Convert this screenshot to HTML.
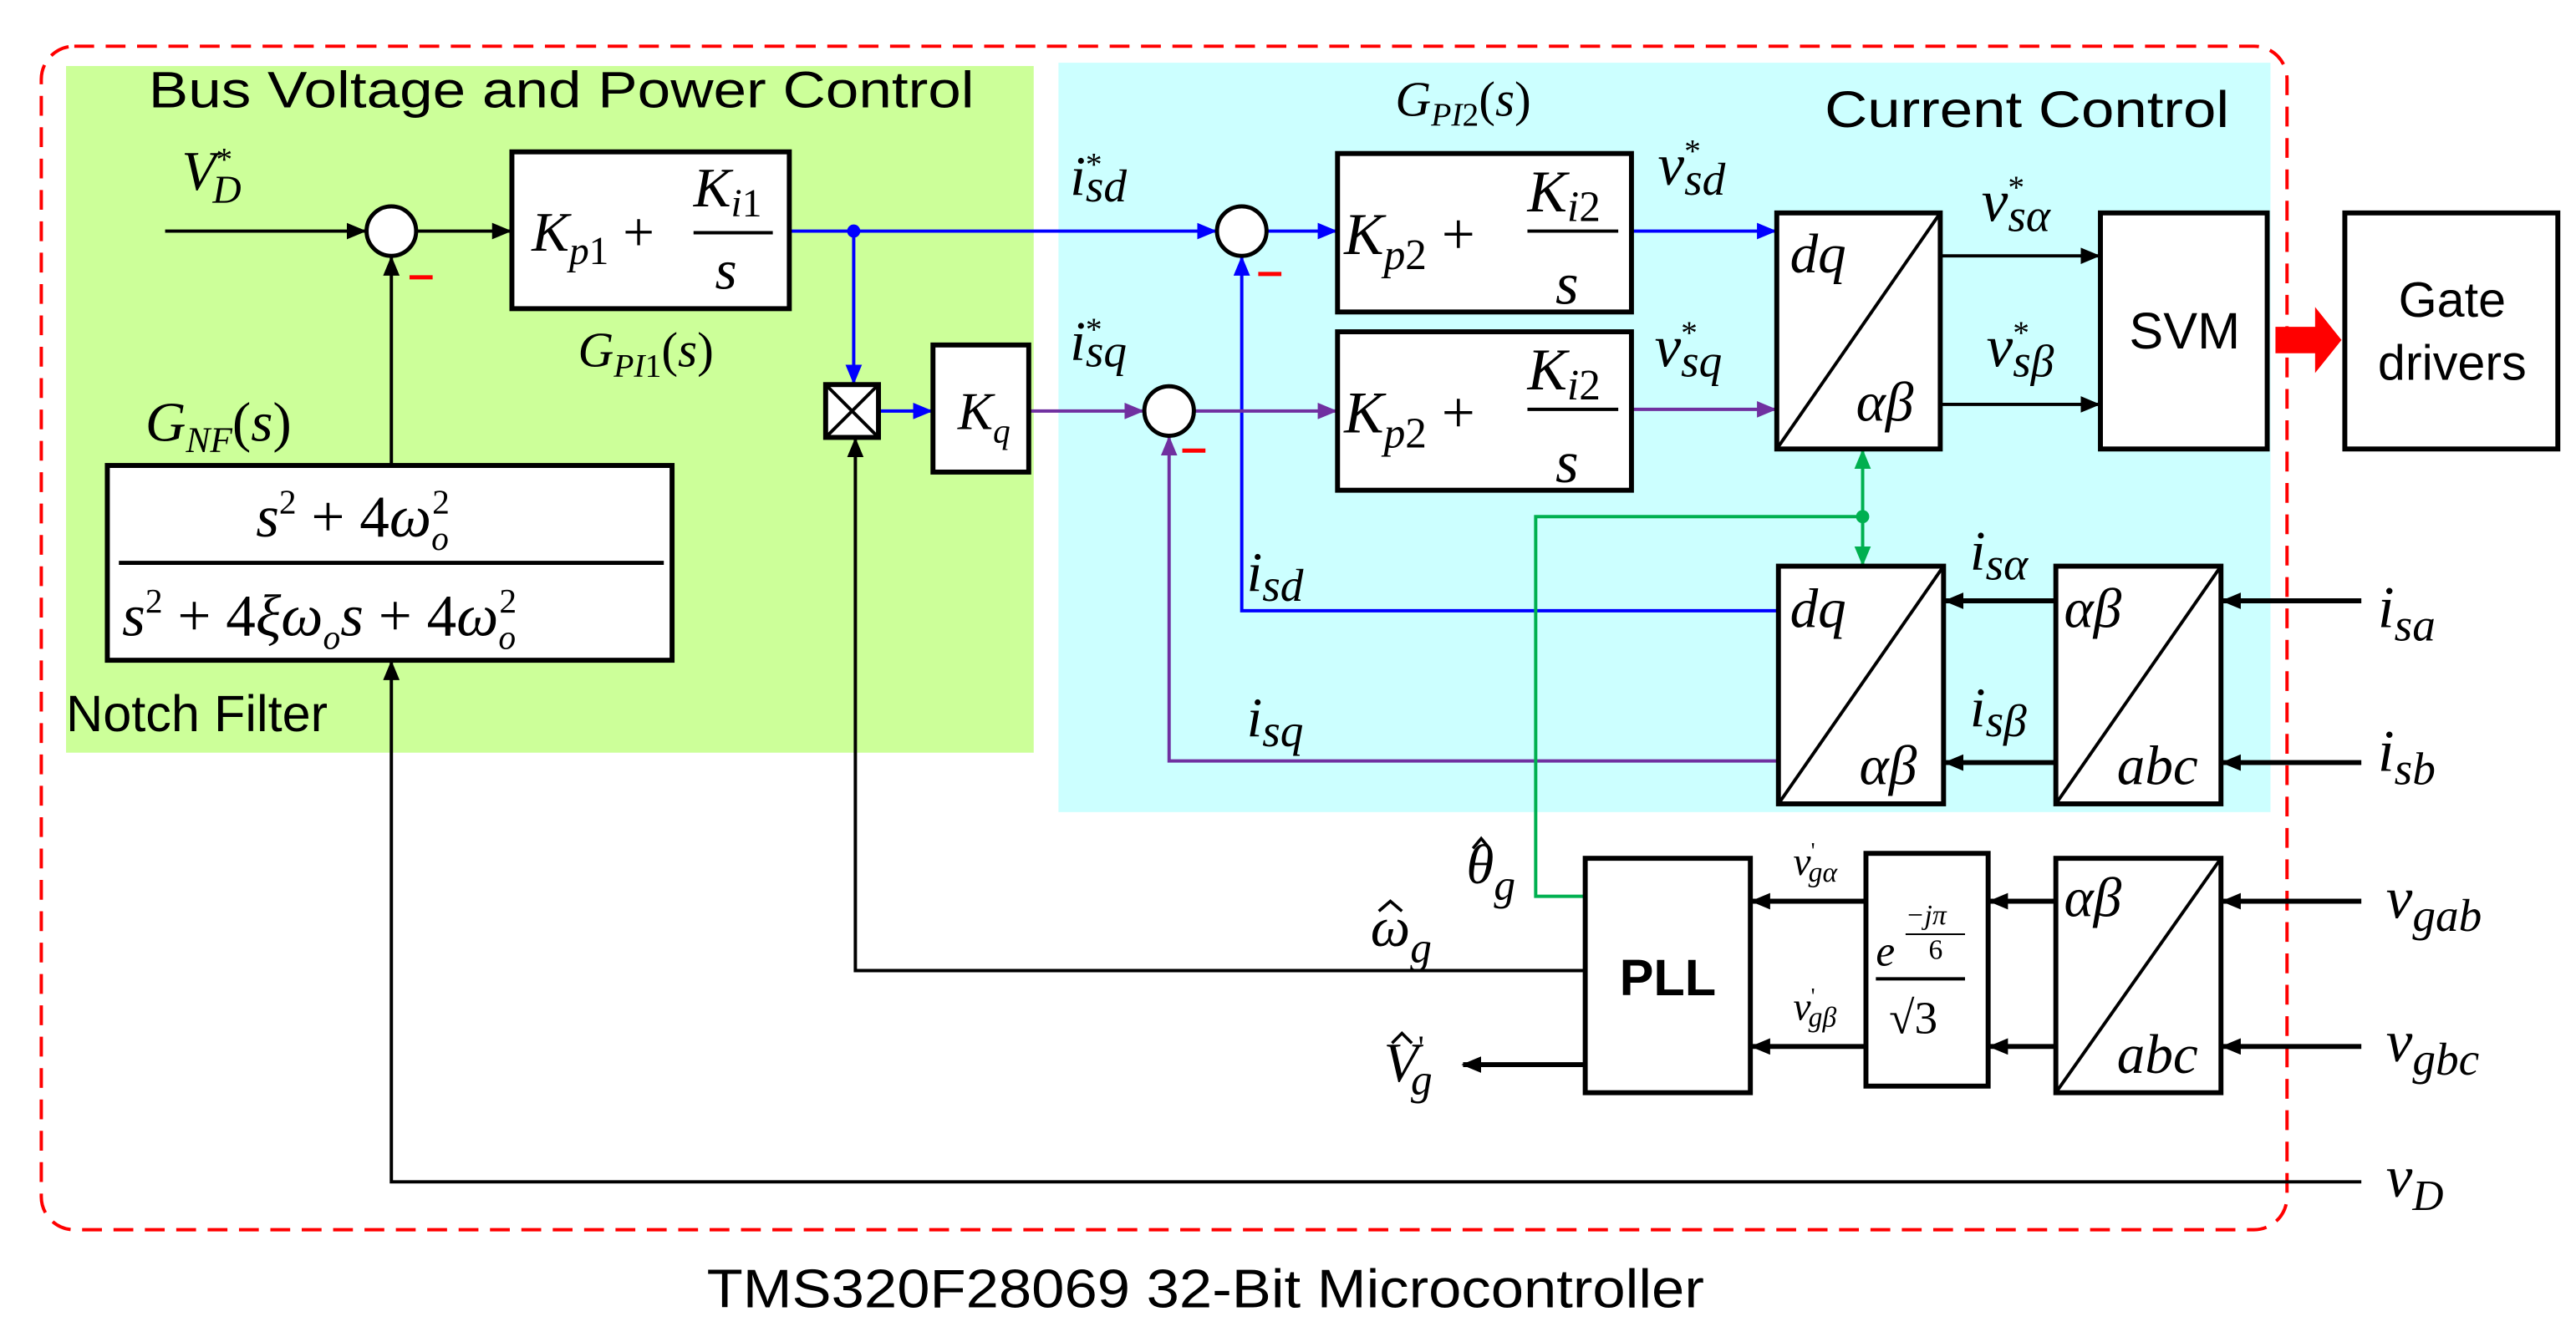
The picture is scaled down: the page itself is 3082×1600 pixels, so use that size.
<!DOCTYPE html>
<html><head><meta charset="utf-8"><style>
html,body{margin:0;padding:0;background:#fff;}
svg{display:block;}
.t{font-family:"Liberation Sans",sans-serif;}
.m{font-family:"Liberation Serif",serif;font-style:italic;}
.r{font-family:"Liberation Serif",serif;}
</style></head><body>
<svg width="3082" height="1600" viewBox="0 0 1560 810" preserveAspectRatio="none" xmlns="http://www.w3.org/2000/svg">
<defs>
<marker id="ak" markerWidth="12" markerHeight="10" refX="11" refY="5" orient="auto" markerUnits="userSpaceOnUse"><path d="M0,0 L12,5 L0,10 z" fill="#000"/></marker>
<marker id="ab" markerWidth="12" markerHeight="10" refX="11" refY="5" orient="auto" markerUnits="userSpaceOnUse"><path d="M0,0 L12,5 L0,10 z" fill="#0000ff"/></marker>
<marker id="ap" markerWidth="12" markerHeight="10" refX="11" refY="5" orient="auto" markerUnits="userSpaceOnUse"><path d="M0,0 L12,5 L0,10 z" fill="#7030a0"/></marker>
<marker id="ag" markerWidth="12" markerHeight="10" refX="11" refY="5" orient="auto" markerUnits="userSpaceOnUse"><path d="M0,0 L12,5 L0,10 z" fill="#00b050"/></marker>
</defs>
<rect x="40" y="40" width="586" height="416" fill="#ccff99"/>
<rect x="641" y="38" width="734" height="454" fill="#ccffff"/>
<rect x="25" y="28" width="1360" height="717" rx="20" fill="none" stroke="#ff0000" stroke-width="2" stroke-dasharray="12,7"/>
<text class="t" x="90" y="65" font-size="31" textLength="500" lengthAdjust="spacingAndGlyphs">Bus Voltage and Power Control</text>
<text class="t" x="1105" y="77" font-size="31" textLength="245" lengthAdjust="spacingAndGlyphs">Current Control</text>
<text class="t" x="428" y="792" font-size="33" textLength="604" lengthAdjust="spacingAndGlyphs">TMS320F28069 32-Bit Microcontroller</text>

<g stroke-width="2" fill="none">
<line x1="100" y1="140" x2="221" y2="140" stroke="#000" marker-end="url(#ak)"/>
<line x1="252" y1="140" x2="309" y2="140" stroke="#000" marker-end="url(#ak)"/>
<line x1="237" y1="282" x2="237" y2="156" stroke="#000" marker-end="url(#ak)"/>
<polyline points="1430,716 237,716 237,401" stroke="#000" marker-end="url(#ak)"/>
<polyline points="960,588 518,588 518,266" stroke="#000" marker-end="url(#ak)"/>
<line x1="960" y1="645" x2="886" y2="645" stroke="#000" stroke-width="3" marker-end="url(#ak)"/>
<line x1="1175" y1="155" x2="1271" y2="155" stroke="#000" marker-end="url(#ak)"/>
<line x1="1175" y1="245" x2="1271" y2="245" stroke="#000" marker-end="url(#ak)"/>
<line x1="1430" y1="364" x2="1346" y2="364" stroke="#000" stroke-width="3" marker-end="url(#ak)"/>
<line x1="1430" y1="462" x2="1346" y2="462" stroke="#000" stroke-width="3" marker-end="url(#ak)"/>
<line x1="1245" y1="364" x2="1178" y2="364" stroke="#000" stroke-width="3" marker-end="url(#ak)"/>
<line x1="1245" y1="462" x2="1178" y2="462" stroke="#000" stroke-width="3" marker-end="url(#ak)"/>
<line x1="1430" y1="546" x2="1346" y2="546" stroke="#000" stroke-width="3" marker-end="url(#ak)"/>
<line x1="1430" y1="634" x2="1346" y2="634" stroke="#000" stroke-width="3" marker-end="url(#ak)"/>
<line x1="1245" y1="546" x2="1205" y2="546" stroke="#000" stroke-width="3" marker-end="url(#ak)"/>
<line x1="1245" y1="634" x2="1205" y2="634" stroke="#000" stroke-width="3" marker-end="url(#ak)"/>
<line x1="1130" y1="546" x2="1061" y2="546" stroke="#000" stroke-width="3" marker-end="url(#ak)"/>
<line x1="1130" y1="634" x2="1061" y2="634" stroke="#000" stroke-width="3" marker-end="url(#ak)"/>
<line x1="478" y1="140" x2="736" y2="140" stroke="#0000ff" marker-end="url(#ab)"/>
<line x1="517" y1="140" x2="517" y2="232" stroke="#0000ff" marker-end="url(#ab)"/>
<line x1="533" y1="249" x2="564" y2="249" stroke="#0000ff" marker-end="url(#ab)"/>
<line x1="767" y1="140" x2="809" y2="140" stroke="#0000ff" marker-end="url(#ab)"/>
<line x1="988" y1="140" x2="1075" y2="140" stroke="#0000ff" marker-end="url(#ab)"/>
<polyline points="1077,370 752,370 752,156" stroke="#0000ff" marker-end="url(#ab)"/>
<line x1="623" y1="249" x2="692" y2="249" stroke="#7030a0" marker-end="url(#ap)"/>
<line x1="723" y1="249" x2="809" y2="249" stroke="#7030a0" marker-end="url(#ap)"/>
<line x1="988" y1="248" x2="1075" y2="248" stroke="#7030a0" marker-end="url(#ap)"/>
<polyline points="1077,461 708,461 708,265" stroke="#7030a0" marker-end="url(#ap)"/>
<polyline points="960,543 930,543 930,313 1128,313" stroke="#00b050"/>
<line x1="1128" y1="313" x2="1128" y2="273" stroke="#00b050" marker-end="url(#ag)"/>
<line x1="1128" y1="313" x2="1128" y2="342" stroke="#00b050" marker-end="url(#ag)"/>
</g>
<circle cx="517" cy="140" r="4" fill="#0000ff"/>
<circle cx="1128" cy="313" r="4" fill="#00b050"/>

<g fill="#fff" stroke="#000" stroke-width="2.5">
<circle cx="237" cy="140" r="15"/><circle cx="752" cy="140" r="15"/><circle cx="708" cy="249" r="15"/>
</g>
<g stroke="#ff0000" stroke-width="2.5">
<line x1="248" y1="168" x2="262" y2="168"/><line x1="762" y1="166" x2="776" y2="166"/><line x1="716" y1="273" x2="730" y2="273"/>
</g>

<g fill="#fff" stroke="#000" stroke-width="3">
<rect x="310" y="92" width="168" height="95"/>
<rect x="65" y="282" width="342" height="118"/>
<rect x="500" y="233" width="32" height="32"/>
<rect x="565" y="209" width="58" height="77"/>
<rect x="810" y="93" width="178" height="96"/>
<rect x="810" y="201" width="178" height="96"/>
<rect x="1076" y="129" width="99" height="143"/>
<rect x="1272" y="129" width="101" height="143"/>
<rect x="1420" y="129" width="129" height="143"/>
<rect x="1077" y="343" width="100" height="144"/>
<rect x="1245" y="343" width="100" height="144"/>
<rect x="960" y="520" width="100" height="142"/>
<rect x="1130" y="517" width="74" height="141"/>
<rect x="1245" y="520" width="100" height="142"/>
</g>
<g stroke="#000" stroke-width="2">
<line x1="500" y1="233" x2="532" y2="265"/><line x1="532" y1="233" x2="500" y2="265"/>
<line x1="1076" y1="272" x2="1175" y2="129"/>
<line x1="1077" y1="487" x2="1177" y2="343"/>
<line x1="1245" y1="487" x2="1345" y2="343"/>
<line x1="1245" y1="662" x2="1345" y2="520"/>
<line x1="420" y1="141" x2="468" y2="141"/>
<line x1="925" y1="140" x2="980" y2="140"/>
<line x1="925" y1="248" x2="980" y2="248"/>
<line x1="72" y1="341" x2="402" y2="341" stroke-width="2.5"/>
<line x1="1136" y1="593" x2="1190" y2="593"/>
</g>
<polygon points="1378,198 1402,198 1402,186 1418,206 1402,226 1402,214 1378,214" fill="#ff0000"/>

<text class="m" x="322" y="152" font-size="34">K<tspan font-size="24" dy="8">p</tspan><tspan class="r" font-style="normal" font-size="24">1</tspan><tspan dy="-8" font-style="normal"> +</tspan></text>
<text class="m" x="420" y="125" font-size="34">K<tspan font-size="24" dy="6">i</tspan><tspan font-style="normal" font-size="24">1</tspan></text>
<text class="m" x="433" y="175" font-size="34">s</text>
<text class="m" x="350" y="222" font-size="30">G<tspan font-size="20" dy="6">PI</tspan><tspan font-size="20" font-style="normal">1</tspan><tspan dy="-6" font-style="normal">(</tspan>s<tspan font-style="normal">)</tspan></text>
<text class="m" x="88" y="267" font-size="34">G<tspan font-size="22" dy="7">NF</tspan><tspan dy="-7" font-style="normal">(</tspan>s<tspan font-style="normal">)</tspan></text>
<text class="m" x="155" y="325" font-size="36">s<tspan font-size="21" dy="-14" font-style="normal">2</tspan><tspan dy="14" font-style="normal"> + 4</tspan>ω<tspan font-size="21" dy="8">o</tspan><tspan font-size="21" dy="-22" dx="-10" font-style="normal">2</tspan></text>
<text class="m" x="74" y="385" font-size="36">s<tspan font-size="21" dy="-14" font-style="normal">2</tspan><tspan dy="14" font-style="normal"> + 4</tspan>ξω<tspan font-size="21" dy="8">o</tspan><tspan dy="-8">s</tspan><tspan font-style="normal"> + 4</tspan>ω<tspan font-size="21" dy="8">o</tspan><tspan font-size="21" dy="-22" dx="-10" font-style="normal">2</tspan></text>
<text class="t" x="40" y="443" font-size="31">Notch Filter</text>
<text class="m" x="580" y="260" font-size="32">K<tspan font-size="21" dy="8">q</tspan></text>
<text class="m" x="110" y="115" font-size="34">V<tspan font-size="20" dx="0" dy="-12" font-style="normal">*</tspan><tspan font-size="24" dx="-12" dy="20">D</tspan></text>
<text class="m" x="648" y="118" font-size="34">i<tspan font-size="20" dy="-12" font-style="normal">*</tspan><tspan font-size="28" dx="-10" dy="16">sd</tspan></text>
<text class="m" x="648" y="218" font-size="34">i<tspan font-size="20" dy="-12" font-style="normal">*</tspan><tspan font-size="28" dx="-10" dy="16">sq</tspan></text>
<text class="m" x="845" y="70" font-size="30">G<tspan font-size="20" dy="6">PI</tspan><tspan font-size="20" font-style="normal">2</tspan><tspan dy="-6" font-style="normal">(</tspan>s<tspan font-style="normal">)</tspan></text>
<g>
<text class="m" x="814" y="154" font-size="36">K<tspan font-size="26" dy="9">p</tspan><tspan font-size="26" font-style="normal">2</tspan><tspan dy="-9" font-style="normal"> +</tspan></text>
<text class="m" x="925" y="128" font-size="36">K<tspan font-size="26" dy="6">i</tspan><tspan font-size="26" font-style="normal">2</tspan></text>
<text class="m" x="942" y="184" font-size="36">s</text>
<text class="m" x="814" y="262" font-size="36">K<tspan font-size="26" dy="9">p</tspan><tspan font-size="26" font-style="normal">2</tspan><tspan dy="-9" font-style="normal"> +</tspan></text>
<text class="m" x="925" y="236" font-size="36">K<tspan font-size="26" dy="6">i</tspan><tspan font-size="26" font-style="normal">2</tspan></text>
<text class="m" x="942" y="292" font-size="36">s</text>
</g>
<text class="m" x="1004" y="112" font-size="36">v<tspan font-size="20" dy="-14" font-style="normal">*</tspan><tspan font-size="28" dx="-10" dy="20">sd</tspan></text>
<text class="m" x="1002" y="222" font-size="36">v<tspan font-size="20" dy="-14" font-style="normal">*</tspan><tspan font-size="28" dx="-10" dy="20">sq</tspan></text>
<text class="m" x="1200" y="134" font-size="36">v<tspan font-size="20" dy="-14" font-style="normal">*</tspan><tspan font-size="28" dx="-10" dy="20">sα</tspan></text>
<text class="m" x="1203" y="222" font-size="36">v<tspan font-size="20" dy="-14" font-style="normal">*</tspan><tspan font-size="28" dx="-10" dy="20">sβ</tspan></text>
<text class="m" x="1084" y="165" font-size="34">dq</text>
<text class="m" x="1124" y="255" font-size="34">αβ</text>
<text class="t" x="1323" y="211" font-size="31" text-anchor="middle">SVM</text>
<text class="t" x="1485" y="192" font-size="30" text-anchor="middle">Gate</text>
<text class="t" x="1485" y="230" font-size="30" text-anchor="middle">drivers</text>
<text class="m" x="1084" y="380" font-size="34">dq</text>
<text class="m" x="1126" y="475" font-size="34">αβ</text>
<text class="m" x="1250" y="380" font-size="34">αβ</text>
<text class="m" x="1282" y="475" font-size="34">abc</text>
<text class="m" x="1250" y="555" font-size="34">αβ</text>
<text class="m" x="1282" y="650" font-size="34">abc</text>
<text class="m" x="755" y="358" font-size="34">i<tspan font-size="28" dy="6">sd</tspan></text>
<text class="m" x="755" y="446" font-size="34">i<tspan font-size="28" dy="6">sq</tspan></text>
<text class="m" x="1193" y="345" font-size="34">i<tspan font-size="28" dy="6">sα</tspan></text>
<text class="m" x="1193" y="440" font-size="34">i<tspan font-size="28" dy="6">sβ</tspan></text>
<text class="m" x="1440" y="380" font-size="36">i<tspan font-size="28" dy="8">sa</tspan></text>
<text class="m" x="1440" y="467" font-size="36">i<tspan font-size="28" dy="8">sb</tspan></text>
<text class="m" x="1445" y="556" font-size="36">v<tspan font-size="28" dy="8">gab</tspan></text>
<text class="m" x="1445" y="643" font-size="36">v<tspan font-size="28" dy="8">gbc</tspan></text>
<text class="m" x="1445" y="725" font-size="36">v<tspan font-size="26" dy="8">D</tspan></text>
<text class="t" x="1010" y="603" font-size="31" font-weight="bold" text-anchor="middle">PLL</text>
<text class="m" x="1136" y="585" font-size="26">e</text>
<text class="m" x="1154" y="560" font-size="17">−jπ</text>
<line x1="1154" y1="566" x2="1190" y2="566" stroke="#000" stroke-width="1"/>
<text class="r" x="1168" y="581" font-size="17">6</text>
<text class="r" x="1144" y="626" font-size="28">√3</text>
<text class="m" x="1086" y="530" font-size="24">v<tspan font-size="14" dy="-10" font-style="normal">'</tspan><tspan font-size="17" dx="-4" dy="14">gα</tspan></text>
<text class="m" x="1086" y="618" font-size="24">v<tspan font-size="14" dy="-10" font-style="normal">'</tspan><tspan font-size="17" dx="-4" dy="14">gβ</tspan></text>
<g stroke="#000" stroke-width="1.8" fill="none">
<polyline points="892,514 897,508 902,514"/>
<polyline points="835,552 842,546 849,552"/>
<polyline points="843,632 849,626 855,632"/>
</g>
<text class="m" x="888" y="535" font-size="34">θ<tspan font-size="26" dy="10">g</tspan></text>
<text class="m" x="830" y="573" font-size="34">ω<tspan font-size="26" dy="10">g</tspan></text>
<text class="m" x="838" y="655" font-size="34">V<tspan font-size="20" dy="-14" font-style="normal">'</tspan><tspan font-size="26" dx="-8" dy="22">g</tspan></text>
</svg>
</body></html>
